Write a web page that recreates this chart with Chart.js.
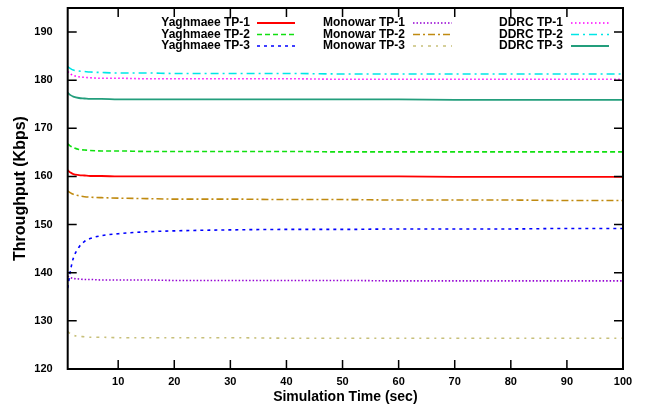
<!DOCTYPE html>
<html>
<head>
<meta charset="utf-8">
<script src="https://cdn.jsdelivr.net/npm/chart.js@4/dist/chart.umd.min.js"></script>
<style>
  html, body { margin: 0; padding: 0; background: #fff; }
  #wrap { width: 649px; height: 409px; }
</style>
</head>
<body>
<div id="wrap"><canvas id="grafica" width="649" height="409"></canvas></div>
<script>
// datos
const tiempos = [1, 1.5, 2, 3, 4, 5, 7, 10, 15, 20, 30, 40, 50, 60, 70, 80, 90, 100];

const yaghmaeeTP1 = [161.3, 160.8, 160.5, 160.3, 160.2, 160.1, 160.1, 160.0, 160.0, 160.0, 160.0, 160.0, 160.0, 160.0, 159.9, 159.9, 159.9, 159.9];
const yaghmaeeTP2 = [166.8, 166.3, 166.0, 165.6, 165.5, 165.4, 165.3, 165.3, 165.2, 165.2, 165.2, 165.2, 165.1, 165.1, 165.1, 165.1, 165.1, 165.1];
const yaghmaeeTP3 = [136.8, 140.5, 143.0, 145.3, 146.5, 147.1, 147.7, 148.1, 148.5, 148.7, 148.9, 149.0, 149.0, 149.1, 149.1, 149.1, 149.2, 149.2];
const monowarTP1 = [139.3, 139.0, 138.8, 138.7, 138.6, 138.6, 138.5, 138.5, 138.5, 138.4, 138.4, 138.4, 138.4, 138.3, 138.3, 138.3, 138.3, 138.3];
const monowarTP2 = [157.0, 156.6, 156.3, 156.0, 155.8, 155.7, 155.6, 155.5, 155.4, 155.3, 155.3, 155.2, 155.2, 155.1, 155.1, 155.1, 155.0, 155.0];
const monowarTP3 = [127.8, 127.3, 127.0, 126.8, 126.7, 126.6, 126.6, 126.5, 126.5, 126.5, 126.5, 126.4, 126.4, 126.4, 126.4, 126.4, 126.4, 126.4];
const ddrcTP1 = [181.8, 181.3, 181.0, 180.7, 180.6, 180.5, 180.4, 180.4, 180.3, 180.3, 180.3, 180.3, 180.2, 180.2, 180.2, 180.2, 180.2, 180.2];
const ddrcTP2 = [182.8, 182.4, 182.1, 181.9, 181.8, 181.7, 181.6, 181.5, 181.5, 181.4, 181.4, 181.4, 181.3, 181.3, 181.3, 181.3, 181.3, 181.3];
const ddrcTP3 = [177.4, 176.9, 176.6, 176.3, 176.2, 176.1, 176.1, 176.0, 176.0, 176.0, 176.0, 176.0, 176.0, 176.0, 175.9, 175.9, 175.9, 175.9];

const nombres = ['Yaghmaee TP-1', 'Yaghmaee TP-2', 'Yaghmaee TP-3',
                 'Monowar TP-1', 'Monowar TP-2', 'Monowar TP-3',
                 'DDRC TP-1', 'DDRC TP-2', 'DDRC TP-3'];
const series = [yaghmaeeTP1, yaghmaeeTP2, yaghmaeeTP3, monowarTP1, monowarTP2, monowarTP3, ddrcTP1, ddrcTP2, ddrcTP3];

const ticksX = [10, 20, 30, 40, 50, 60, 70, 80, 90, 100];
const ticksY = [120, 130, 140, 150, 160, 170, 180, 190];

// estilos de linea (estilo gnuplot)
const colores = ['#ff0000', '#10e010', '#0000ff', '#9400d3', '#c08a10', '#c8c07a', '#ff00ff', '#00e6e6', '#239e7c'];
const guiones = [[], [5, 3], [3, 4], [1.5, 2], [7, 3, 2, 3], [3, 5, 2, 5], [1.5, 2.5], [8, 4, 2, 4], []];

const datasets = series.map((s, i) => ({
  label: nombres[i],
  data: s.map((v, k) => ({ x: tiempos[k], y: v })),
  borderColor: colores[i],
  borderDash: guiones[i],
  borderWidth: i === 0 || i === 8 ? 1.8 : 1.6,
  pointRadius: 0,
  fill: false,
  cubicInterpolationMode: 'monotone'
}));

// leyenda: texto a la derecha alineado y muestra de linea
const leyendaGnuplot = {
  id: 'leyendaGnuplot',
  afterDraw(chart) {
    const ctx = chart.ctx;
    const colTexto = [250, 405, 563];
    const colLinea = [[257, 295], [413, 452], [571, 609]];
    const filas = [23, 34.5, 46];
    ctx.save();
    ctx.font = 'bold 12px "Liberation Sans", Arial, sans-serif';
    ctx.textAlign = 'right';
    ctx.textBaseline = 'middle';
    chart.data.datasets.forEach((ds, i) => {
      const c = Math.floor(i / 3), f = i % 3;
      ctx.fillStyle = '#000';
      ctx.fillText(ds.label, colTexto[c], filas[f]);
      ctx.strokeStyle = ds.borderColor;
      ctx.lineWidth = ds.borderWidth;
      ctx.setLineDash(ds.borderDash);
      ctx.beginPath();
      ctx.moveTo(colLinea[c][0], filas[f]);
      ctx.lineTo(colLinea[c][1], filas[f]);
      ctx.stroke();
    });
    ctx.restore();
  }
};

// marco y marcas hacia adentro en los cuatro lados
const marco = {
  id: 'marco',
  afterDraw(chart) {
    const ctx = chart.ctx;
    const a = chart.chartArea;
    const sx = chart.scales.x, sy = chart.scales.y;
    const largo = 9;
    ctx.save();
    ctx.strokeStyle = '#000';
    ctx.lineWidth = 1.5;
    ctx.setLineDash([]);
    ctx.beginPath();
    ticksX.forEach(t => {
      const px = sx.getPixelForValue(t);
      ctx.moveTo(px, a.bottom); ctx.lineTo(px, a.bottom - largo);
      ctx.moveTo(px, a.top); ctx.lineTo(px, a.top + largo);
    });
    ticksY.forEach(t => {
      const py = sy.getPixelForValue(t);
      ctx.moveTo(a.left, py); ctx.lineTo(a.left + largo, py);
      ctx.moveTo(a.right, py); ctx.lineTo(a.right - largo, py);
    });
    ctx.stroke();
    ctx.lineWidth = 2;
    ctx.strokeRect(a.left, a.top, a.right - a.left, a.bottom - a.top);
    ctx.restore();
  }
};

const fuenteTicks = { family: '"Liberation Sans", Arial, sans-serif', size: 11, weight: 'bold' };

new Chart(document.getElementById('grafica').getContext('2d'), {
  type: 'line',
  data: { datasets: datasets },
  options: {
    responsive: false,
    animation: false,
    layout: { padding: { top: 8, right: 26, left: 0, bottom: 0 } },
    plugins: { legend: { display: false }, tooltip: { enabled: false } },
    scales: {
      x: {
        type: 'linear',
        min: 1,
        max: 100,
        afterBuildTicks: s => { s.ticks = ticksX.map(v => ({ value: v })); },
        afterFit: s => { s.height = 40; s.paddingLeft = 0; s.paddingRight = 0; },
        grid: { display: false, drawTicks: false },
        border: { display: false },
        ticks: { color: '#000', font: fuenteTicks, padding: 6, maxRotation: 0 },
        title: {
          display: true,
          text: 'Simulation Time (sec)',
          color: '#000',
          font: { family: '"Liberation Sans", Arial, sans-serif', size: 14, weight: 'bold' },
          padding: { top: 0, bottom: 3 }
        }
      },
      y: {
        type: 'linear',
        min: 120,
        max: 195,
        afterBuildTicks: s => { s.ticks = ticksY.map(v => ({ value: v })); },
        afterFit: s => { s.width = 67.7; s.paddingTop = 0; s.paddingBottom = 0; },
        grid: { display: false, drawTicks: false },
        border: { display: false },
        ticks: { color: '#000', font: fuenteTicks, padding: 15 },
        title: {
          display: true,
          text: 'Throughput (Kbps)',
          color: '#000',
          font: { family: '"Liberation Sans", Arial, sans-serif', size: 16, weight: 'bold' },
          padding: { top: 11, bottom: 0 }
        }
      }
    }
  },
  plugins: [leyendaGnuplot, marco]
});
</script>
</body>
</html>
